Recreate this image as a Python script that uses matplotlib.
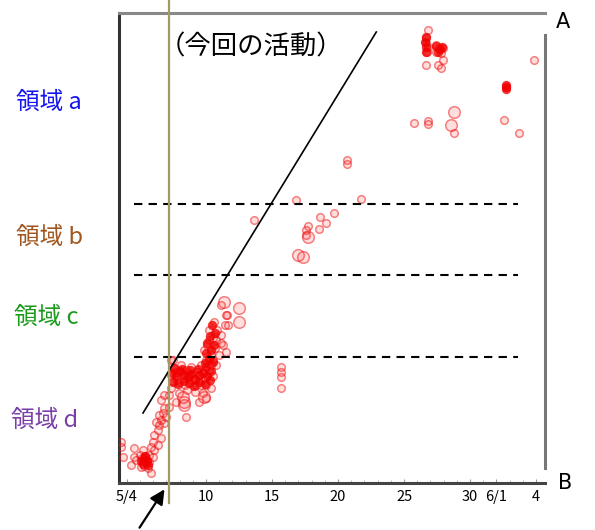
import matplotlib
matplotlib.use("Agg")
import matplotlib.pyplot as plt
from matplotlib.ticker import FixedLocator, MultipleLocator

plt.rcParams['font.family'] = ['Noto Sans CJK JP', 'DejaVu Sans']

# ---- data (x = day of May, June days as 31+d ; y = relative level 0..470) ----
tick_days = [4, 10, 15, 20, 25, 30, 32, 35]
tick_labels = ["5/4", "10", "15", "20", "25", "30", "6/1", "4"]

small_x = [3.56, 3.56, 3.71, 4.32, 4.55, 4.55, 4.70, 5.30, 5.45, 5.61, 5.83, 5.68, 5.83, 5.98,
           6.06, 6.36, 6.44, 6.59, 6.74, 6.82, 6.59, 6.06, 5.23, 5.08, 5.98, 6.36, 6.82, 6.97,
           5.15, 5.38, 5.53, 5.68, 5.30, 5.00,
           7.35, 7.58, 7.80, 8.11, 8.41, 8.71, 9.02, 9.32, 9.62, 9.92, 10.23, 10.53, 7.35, 7.95,
           8.56, 9.17, 9.77, 10.38, 10.76, 10.00, 10.38, 10.68, 10.08, 10.53, 10.83, 10.23, 10.61,
           11.14, 11.29, 10.98, 11.44, 11.59, 11.14, 10.38, 9.62, 8.86, 8.11, 7.50, 7.20, 7.73,
           9.47, 10.00, 6.82, 6.59, 11.52, 11.67, 11.52, 11.14, 8.48, 6.44, 6.21, 7.20,
           7.35, 7.73, 8.48, 9.24, 10.00, 7.95, 9.47, 10.53, 10.23, 9.85, 10.76,
           15.68, 15.68, 15.68, 15.68,
           13.64, 16.82, 21.74, 20.68, 20.68, 19.70, 18.64, 19.09, 18.56, 17.73, 17.58, 17.58,
           26.82, 26.67, 26.67, 26.82, 26.74, 27.42, 27.65, 27.95, 27.80, 27.42, 27.95, 27.58,
           27.80, 26.67, 34.85, 25.76, 26.82, 26.82, 32.58, 33.71, 28.79]
small_y = [41, 36, 26, 18, 35, 26, 23, 23, 20, 15, 10, 28, 36, 41,
           48, 53, 58, 63, 70, 75, 45, 33, 33, 16, 26, 38, 60, 66,
           25, 27, 23, 21, 17, 28,
           108, 115, 103, 111, 98, 108, 103, 111, 98, 105, 113, 107, 95, 90,
           93, 91, 90, 95, 118, 123, 128, 135, 138, 145, 153, 153, 161,
           148, 138, 128, 158, 168, 178, 118, 118, 116, 118, 123, 88, 81,
           81, 85, 88, 83, 168, 158, 131, 140, 66, 68, 61, 76,
           123, 111, 113, 98, 98, 101, 108, 123, 143, 133, 143,
           116, 111, 106, 95,
           263, 283, 284, 323, 319, 270, 266, 260, 254, 257, 253, 248,
           453, 445, 440, 436, 431, 438, 435, 435, 430, 431, 423, 418,
           415, 418, 423, 360, 362, 359, 363, 350, 350]

large_x = [11.36, 12.50, 12.50, 8.33, 8.26, 9.85, 8.33, 17.73, 16.97, 17.36, 28.79, 28.56]
large_y = [181, 175, 161, 78, 86, 86, 81, 246, 228, 226, 371, 358]

solid_x = [32.70, 32.70, 32.75,
           5.10, 5.30, 5.50, 5.40, 5.60, 5.20,
           26.60, 26.70, 26.70, 26.65, 27.40, 27.70, 27.90, 27.60,
           7.40, 7.70, 8.00, 8.30, 8.60, 8.90, 9.20, 9.50, 9.80, 10.10, 10.40,
           7.50, 7.90, 8.30, 8.70, 9.10, 9.50, 9.90, 10.30,
           7.60, 8.20, 8.80, 9.40, 10.00,
           9.90, 10.20, 10.50, 10.00, 10.40, 10.10, 10.60, 10.30, 10.70, 10.45]
solid_y = [398, 394, 396,
           22, 25, 22, 27, 18, 19,
           441, 436, 446, 431, 437, 434, 436, 431,
           110, 107, 112, 108, 106, 109, 104, 108, 110, 107, 112,
           101, 99, 102, 100, 97, 101, 99, 103,
           115, 114, 113, 114, 116,
           120, 124, 121, 130, 133, 140, 138, 147, 150, 158]

boundaries = [279, 208, 126]
activity_line_x = [5.23, 22.9]
activity_line_y = [70, 451]
today = 7.2

region_labels = ["領域 a", "領域 b", "領域 c", "領域 d"]
region_colors = ["#1515f0", "#a0561e", "#1c9a1c", "#7a40a8"]

# ---- figure ----
fig = plt.figure(figsize=(5.95, 5.30), dpi=100)
ax = fig.add_axes([119/595, 47/530, 426/595, 470/530])
ax.set_xlim(3.41, 35.68)
ax.set_ylim(0, 470)

edge = (0.93, 0.05, 0.05, 0.5)
face = (1.0, 0.15, 0.15, 0.15)
ax.scatter(small_x, small_y, s=30, facecolors=[face], edgecolors=[edge], linewidths=1.1, zorder=3)
ax.scatter(large_x, large_y, s=70, facecolors=[face], edgecolors=[edge], linewidths=1.1, zorder=3)
ax.scatter(solid_x, solid_y, s=45, color=(0.95, 0.0, 0.0, 0.8), linewidths=0, zorder=3)

for b in boundaries:
    ax.plot([4.55, 33.6], [b, b], color="black", lw=1.5, ls=(0, (4, 3)), zorder=4)

ax.plot(activity_line_x, activity_line_y, color="black", lw=1.2, zorder=4)

ax.plot([today, today], [-20, 483], color="#a39a62", lw=1.6, clip_on=False, zorder=5)

ax.text(13.4, 436, "（今回の活動）", fontsize=19, ha="center", va="center",
        family=['Noto Sans CJK JP', 'DejaVu Sans'])

ax.annotate("", xy=(6.97, -4), xytext=(4.85, -47), xycoords="data",
            arrowprops=dict(arrowstyle="-|>", color="black", lw=1.6, mutation_scale=22),
            annotation_clip=False)

# spines
for s in ["left", "bottom", "top", "right"]:
    ax.spines[s].set_linewidth(2.2)
ax.spines["left"].set_color("#333333")
ax.spines["bottom"].set_color("#444444")
ax.spines["top"].set_color("#888888")
ax.spines["right"].set_color("#777777")
ax.spines["right"].set_bounds(15, 448)

ax.xaxis.set_major_locator(FixedLocator(tick_days))
ax.set_xticklabels(tick_labels, fontsize=10.5)
ax.xaxis.set_minor_locator(MultipleLocator(1))
ax.tick_params(axis="x", which="major", length=3, direction="in", color="#999999", pad=5)
ax.tick_params(axis="x", which="minor", length=2, direction="in", color="#aaaaaa")
ax.set_yticks([])

ypos = [1 - 102/530, 1 - 237/530, 1 - 317/530, 1 - 420/530]
xpos = [16/595, 16/595, 14/595, 11/595]
for lab, c, yy, xx in zip(region_labels, region_colors, ypos, xpos):
    fig.text(xx, yy, lab, color=c, fontsize=17, ha="left", va="center")

fig.text(0.946, 0.958, "A", fontsize=15, ha="center", va="center", family="DejaVu Sans")
fig.text(0.950, 0.089, "B", fontsize=15, ha="center", va="center", family="DejaVu Sans")

fig.savefig("out.png", dpi=100)
